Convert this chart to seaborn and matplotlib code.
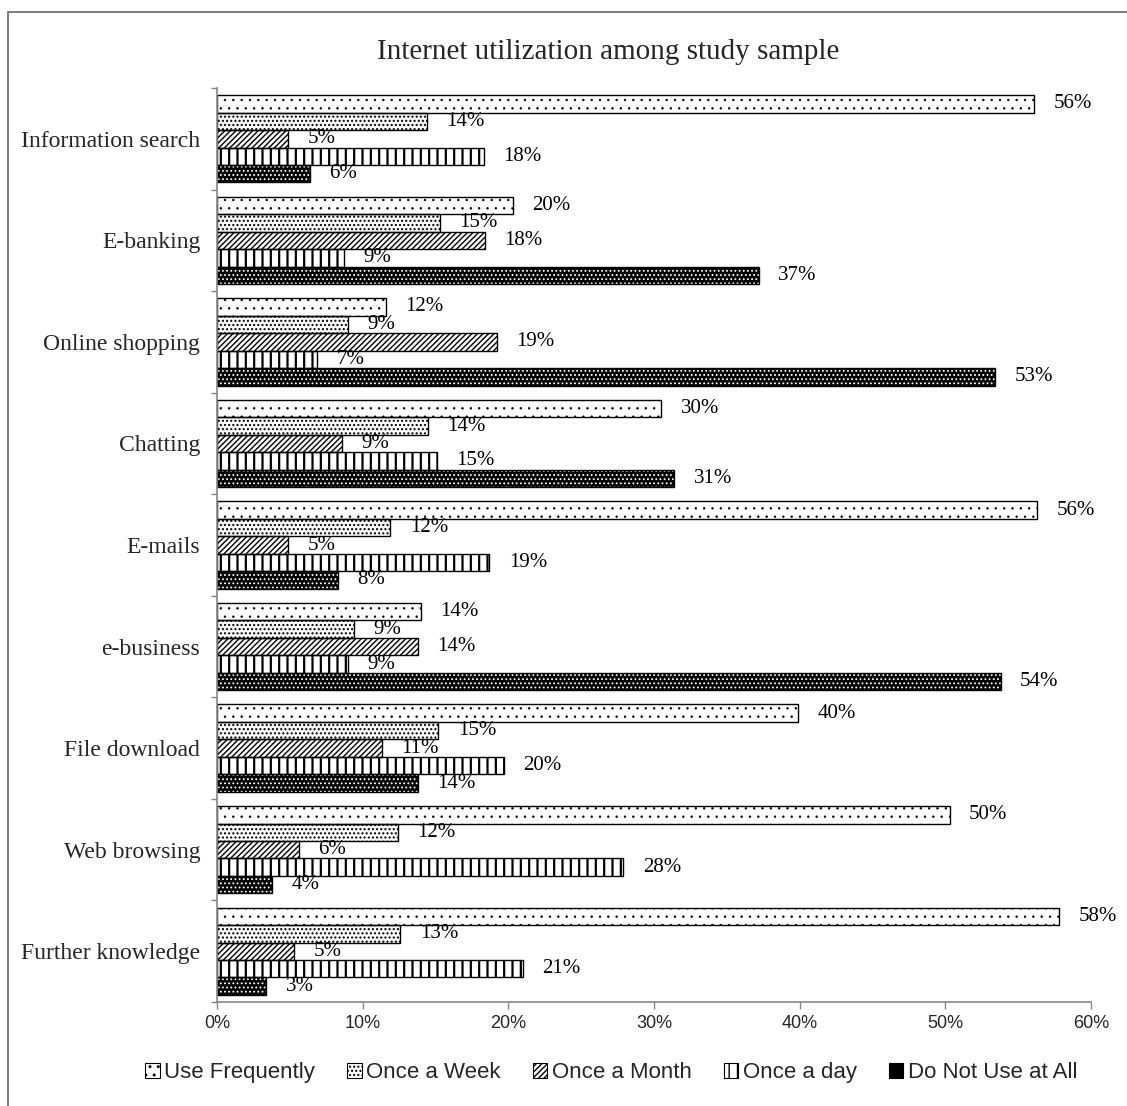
import matplotlib
matplotlib.use("Agg")
import matplotlib.pyplot as plt
from matplotlib.patches import Patch, Rectangle
from matplotlib.ticker import FuncFormatter, FixedLocator
import numpy as np
import pandas as pd
import seaborn as sns

categories = ["Information search", "E-banking", "Online shopping", "Chatting",
              "E-mails", "e-business", "File download", "Web browsing",
              "Further knowledge"]
series = ["Use Frequently", "Once a Week", "Once a Month", "Once a day",
          "Do Not Use at All"]

use_frequently = [56.1, 20.3, 11.6, 30.5, 56.3, 14.0, 39.9, 50.3, 57.8]
once_a_week = [14.4, 15.3, 9.0, 14.5, 11.9, 9.4, 15.2, 12.4, 12.6]
once_a_month = [4.9, 18.4, 19.2, 8.6, 4.9, 13.8, 11.3, 5.6, 5.3]
once_a_day = [18.3, 8.7, 6.9, 15.1, 18.7, 9.0, 19.7, 27.9, 21.0]
not_at_all = [6.4, 37.2, 53.4, 31.4, 8.3, 53.8, 13.8, 3.8, 3.4]

values = [use_frequently, once_a_week, once_a_month, once_a_day, not_at_all]

df = pd.DataFrame({
    "category": np.repeat([categories], len(series), axis=0).ravel(),
    "series": np.repeat(series, len(categories)),
    "value": np.concatenate(values),
})

serif = "Liberation Serif"
sans = "Liberation Sans"
sns.set_theme(style="white")
plt.rcParams["font.family"] = [sans, "DejaVu Sans"]
plt.rcParams["hatch.linewidth"] = 1.0

# fill, hatch colour, hatch pattern, hatch line width per series
styles = {
    "Use Frequently": ("white", "black", "..", 0.5),
    "Once a Week": ("white", "black", "....", 1.0),
    "Once a Month": ("white", "black", "//////", 1.0),
    "Once a day": ("white", "black", "||", 1.6),
    "Do Not Use at All": ("black", "white", "....", 0.8),
}


def style_patch(p, name):
    face, hcol, hatch, hlw = styles[name]
    p.set_facecolor(face)
    p.set_edgecolor(hcol)
    p.set_hatch(hatch)
    if hasattr(p, "set_hatch_linewidth"):
        p.set_hatch_linewidth(hlw)


fig = plt.figure(figsize=(11.27, 11.06), dpi=100)
ax = fig.add_axes([0.1925, 0.0940, 0.7755, 0.8264])

sns.barplot(data=df, y="category", x="value", hue="series", order=categories,
            hue_order=series, orient="h", width=0.86, dodge=True,
            palette=["white"] * len(series), legend=False, ax=ax,
            saturation=1)

for name, cont in zip(series, ax.containers):
    for bar in cont:
        style_patch(bar, name)
        bar.set_linewidth(0)
        # outline drawn on top in black
        x0, y0 = bar.get_xy()
        ax.add_patch(Rectangle((x0, y0), bar.get_width(), bar.get_height(),
                               fill=False, edgecolor="black", linewidth=1.0,
                               zorder=bar.get_zorder() + 0.1))
    ax.bar_label(cont, labels=[f"{v:.0f}%" for v in cont.datavalues],
                 padding=14, fontsize=15, family=serif, color="black")

ax.set_xlim(0, 60)
ax.set_ylim(len(categories) - 0.5, -0.5)
ax.xaxis.set_major_locator(FixedLocator(np.arange(0, 61, 10)))
ax.xaxis.set_major_formatter(FuncFormatter(lambda v, p: f"{v:.0f}%"))
ax.set_xlabel("")
ax.set_ylabel("")
ax.tick_params(axis="x", which="major", direction="out", length=5, width=1,
               color="#868686", labelsize=13, pad=4, bottom=True)
ax.tick_params(axis="y", which="major", length=0, labelsize=17, pad=12)
ax.yaxis.set_minor_locator(FixedLocator(np.arange(-0.5, len(categories), 1)))
ax.tick_params(axis="y", which="minor", direction="out", length=4, width=1,
               color="#868686", left=True)
for lbl in ax.get_yticklabels():
    lbl.set_family(serif)

for side in ["top", "right"]:
    ax.spines[side].set_visible(False)
for side in ["left", "bottom"]:
    ax.spines[side].set_color("#868686")
    ax.spines[side].set_linewidth(1.2)

fig.text(0.540, 0.953, "Internet utilization among study sample",
         ha="center", va="center", fontsize=21, family=serif)

handles = []
for s in series:
    h = Patch(linewidth=0.8)
    style_patch(h, s)
    handles.append(h)
leg = fig.legend(handles, series, loc="center", bbox_to_anchor=(0.5425, 0.030),
                 ncol=5, frameon=False, fontsize=16, handlelength=0.65,
                 handleheight=0.65, handletextpad=0.2, columnspacing=1.45)
for h in leg.legend_handles:
    h.set_edgecolor("black")
    h.set_linewidth(0.8)

# outer frame
fig.add_artist(Rectangle((8 / 1127, -0.1), 2.0, 1.1 - 12 / 1106,
                         transform=fig.transFigure, fill=False,
                         edgecolor="#666666", linewidth=1.2))

fig.savefig("out.png", dpi=100)
